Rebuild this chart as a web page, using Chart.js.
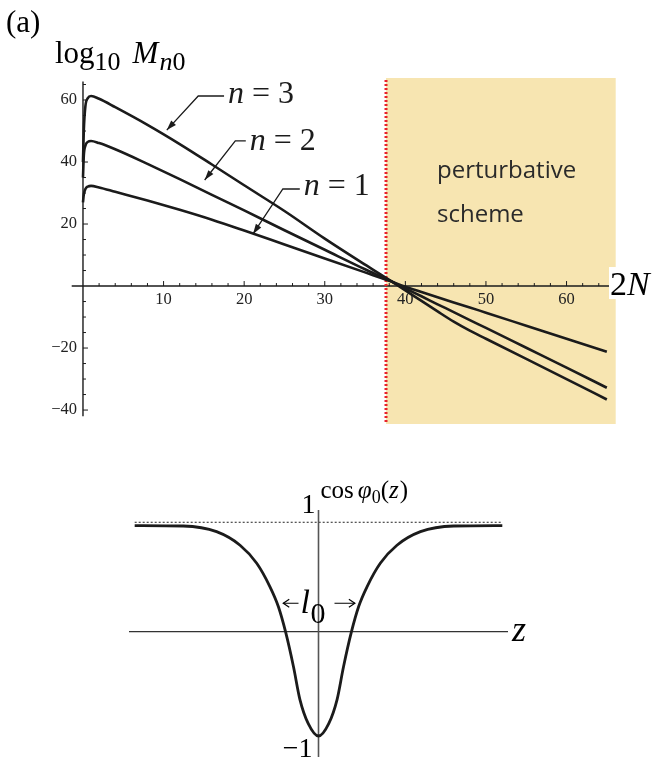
<!DOCTYPE html>
<html>
<head>
<meta charset="utf-8">
<script src="https://cdn.jsdelivr.net/npm/chart.js@4/dist/chart.umd.min.js"></script>
<style>
  html, body { margin: 0; padding: 0; background: #fff; }
  body { width: 657px; height: 760px; position: relative; overflow: hidden; }
  canvas { position: absolute; left: 0; }
  #mChart { top: 0; }
  #cosChart { top: 440px; }
</style>
</head>
<body>
<canvas id="mChart" width="657" height="440"></canvas>
<canvas id="cosChart" width="657" height="320"></canvas>
<script>
// ---- panel (a): log10 M_n0 against 2N ----
const twoN  = [0, 0.1, 0.3, 0.6, 1, 2, 4, 8, 12, 16, 20, 25, 30, 35, 38, 40, 42, 44, 46, 48, 50, 55, 60, 65];
const logM1 = [27, 29.5, 31.3, 32.1, 32.3, 31.8, 30.4, 27.6, 24.6, 21.4, 17.9, 13.4, 8.9, 4.4, 1.7, -0.2, -1.9, -3.6, -5.3, -6.9, -8.6, -12.8, -17.0, -21.2];
const logM2 = [35, 42, 45.3, 46.5, 46.8, 46.1, 44.1, 39.4, 34.5, 29.4, 24.4, 18.0, 11.7, 5.4, 1.8, -0.8, -3.3, -5.9, -8.4, -11.0, -13.5, -19.9, -26.3, -32.8];
const logM3 = [40, 50, 58, 60.6, 61.3, 60.4, 57.7, 52.0, 45.8, 39.2, 32.5, 24.2, 15.3, 6.9, 2.0, -1.4, -4.8, -8.2, -11.5, -14.4, -17.0, -23.5, -30.0, -36.6];
const xTicks = [10, 20, 30, 40, 50, 60];
const yTicks = [-40, -20, 20, 40, 60];
const schemeStart = 37.6;   // 2N where the perturbative scheme takes over

// ---- lower panel: cos phi0(z) ----
const zVals   = [-4.85, -3.57, -2.69, -2.07, -1.63, -1.28, -1.06, -0.87, -0.66, -0.49, -0.27, 0, 0.27, 0.49, 0.66, 0.87, 1.06, 1.28, 1.63, 2.07, 2.69, 3.57, 4.85];
const cosVals = [0.97, 0.966, 0.914, 0.79, 0.625, 0.41, 0.23, 0, -0.32, -0.62, -0.84, -0.953, -0.84, -0.62, -0.32, 0, 0.23, 0.41, 0.625, 0.79, 0.914, 0.966, 0.97];

const serif = '"Liberation Serif", "DejaVu Serif", serif';
const ink = '#1b1b1b';

function pts(xs, ys) { return xs.map((v, i) => ({x: v, y: ys[i]})); }

// write a row of text pieces with their own fonts and vertical shifts
function drawParts(ctx, x, y, parts) {
  let cx = x;
  ctx.textAlign = 'left';
  ctx.textBaseline = 'alphabetic';
  for (const p of parts) {
    ctx.font = p.font;
    ctx.fillText(p.t, cx, y + (p.dy || 0));
    cx += ctx.measureText(p.t).width + (p.gap || 0);
  }
}

function arrowTip(ctx, fx, fy, tx, ty, len, half, filled) {
  const a = Math.atan2(ty - fy, tx - fx);
  const bx = tx - len * Math.cos(a), by = ty - len * Math.sin(a);
  const ox = half * Math.sin(a), oy = -half * Math.cos(a);
  ctx.beginPath();
  if (filled) {
    ctx.moveTo(tx, ty);
    ctx.lineTo(bx + ox, by + oy);
    ctx.lineTo(bx - ox, by - oy);
    ctx.closePath();
    ctx.fill();
  } else {
    ctx.moveTo(bx + ox, by + oy);
    ctx.lineTo(tx, ty);
    ctx.lineTo(bx - ox, by - oy);
    ctx.stroke();
  }
}

const nLabels = [
  {n: '3', tip: [10.4, 50.3], elbow: [14.3, 61.3], text: [18.0, 59.0]},
  {n: '2', tip: [15.1, 34.2], elbow: [18.9, 46.8], text: [20.7, 43.9]},
  {n: '1', tip: [21.1, 16.8], elbow: [24.8, 31.3], text: [27.4, 29.4]}
];

const panelA = {
  id: 'panelA',
  beforeDatasetsDraw(chart) {
    const {ctx, chartArea: a, scales: {x, y}} = chart;
    const x0 = x.getPixelForValue(0), y0 = y.getPixelForValue(0);
    ctx.save();

    // shaded region
    const xs = x.getPixelForValue(schemeStart);
    ctx.fillStyle = 'rgb(247,229,177)';
    ctx.fillRect(xs, a.top, a.right - xs, a.bottom - a.top);
    ctx.fillStyle = '#2a2a2a';
    ctx.font = '24px "Open Sans", "Noto Sans", sans-serif';
    ctx.textAlign = 'left';
    ctx.textBaseline = 'alphabetic';
    ctx.fillText('perturbative', 437, 178);
    ctx.fillText('scheme', 437, 222);

    // axes through the origin
    ctx.strokeStyle = ink;
    ctx.lineWidth = 1.4;
    ctx.beginPath();
    ctx.moveTo(a.left, y0); ctx.lineTo(a.right, y0);
    ctx.moveTo(x0, y.getPixelForValue(66)); ctx.lineTo(x0, y.getPixelForValue(-42));
    ctx.stroke();

    ctx.lineWidth = 1;
    ctx.beginPath();
    for (let v = 2; v <= 64; v += 2) {
      const px = x.getPixelForValue(v), len = v % 10 === 0 ? 5 : 3;
      ctx.moveTo(px, y0); ctx.lineTo(px, y0 - len);
    }
    for (let v = -40; v <= 65; v += 5) {
      if (v === 0) continue;
      const py = y.getPixelForValue(v), len = v % 20 === 0 ? 5 : 3;
      ctx.moveTo(x0, py); ctx.lineTo(x0 + len, py);
    }
    ctx.stroke();

    ctx.fillStyle = '#222';
    ctx.font = '16.5px ' + serif;
    ctx.textAlign = 'center';
    ctx.textBaseline = 'middle';
    xTicks.forEach(v => ctx.fillText(String(v), x.getPixelForValue(v), y0 + 14));
    ctx.textAlign = 'right';
    yTicks.forEach(v => ctx.fillText(String(v).replace('-', '\u2212'), x0 - 6, y.getPixelForValue(v)));

    // onset of the perturbative scheme
    ctx.strokeStyle = '#e8232b';
    ctx.lineWidth = 3;
    ctx.setLineDash([2, 2]);
    ctx.beginPath();
    ctx.moveTo(xs, a.top + 2); ctx.lineTo(xs, a.bottom);
    ctx.stroke();
    ctx.restore();
  },
  afterDatasetsDraw(chart) {
    const {ctx, scales: {x, y}} = chart;
    ctx.save();
    ctx.fillStyle = ink;
    ctx.strokeStyle = ink;
    ctx.lineWidth = 1.3;
    nLabels.forEach(l => {
      const tx = x.getPixelForValue(l.tip[0]), ty = y.getPixelForValue(l.tip[1]);
      const ex = x.getPixelForValue(l.elbow[0]), ey = y.getPixelForValue(l.elbow[1]);
      const sx = x.getPixelForValue(l.text[0]), sy = y.getPixelForValue(l.text[1]);
      ctx.beginPath();
      ctx.moveTo(sx - 4, ey); ctx.lineTo(ex, ey); ctx.lineTo(tx, ty);
      ctx.stroke();
      arrowTip(ctx, ex, ey, tx, ty, 10, 3.2, true);
      drawParts(ctx, sx, sy, [
        {t: 'n', font: 'italic 32px ' + serif, gap: 8},
        {t: '=', font: '32px ' + serif, gap: 8},
        {t: l.n, font: '32px ' + serif}
      ]);
    });

    // horizontal axis title on a white patch
    const y0 = y.getPixelForValue(0);
    ctx.fillStyle = '#fff';
    ctx.fillRect(609, y0 - 19, 48, 32);
    ctx.fillStyle = '#000';
    drawParts(ctx, 610, y0 + 9, [
      {t: '2', font: '34px ' + serif},
      {t: 'N', font: 'italic 34px ' + serif}
    ]);

    // panel tag and vertical axis title
    drawParts(ctx, 6, 32, [{t: '(a)', font: '31px ' + serif}]);
    drawParts(ctx, 55, 63, [
      {t: 'log', font: '31px ' + serif},
      {t: '10', font: '26px ' + serif, dy: 7, gap: 12},
      {t: 'M', font: 'italic 31px ' + serif, gap: 1},
      {t: 'n', font: 'italic 26px ' + serif, dy: 7},
      {t: '0', font: '26px ' + serif, dy: 7}
    ]);
    ctx.restore();
  }
};

const lineStyle = {
  showLine: true, pointRadius: 0, borderColor: ink, borderWidth: 2.6,
  cubicInterpolationMode: 'monotone', fill: false
};

new Chart(document.getElementById('mChart'), {
  type: 'scatter',
  data: {
    datasets: [
      Object.assign({label: 'n = 1', data: pts(twoN, logM1)}, lineStyle),
      Object.assign({label: 'n = 2', data: pts(twoN, logM2)}, lineStyle),
      Object.assign({label: 'n = 3', data: pts(twoN, logM3)}, lineStyle)
    ]
  },
  options: {
    responsive: false,
    animation: false,
    layout: {padding: {left: 71.7, right: 41.3, top: 78, bottom: 16}},
    plugins: {legend: {display: false}, tooltip: {enabled: false}},
    scales: {
      x: {type: 'linear', min: -1.4, max: 66.1, display: false},
      y: {type: 'linear', min: -44.5, max: 67.1, display: false}
    }
  },
  plugins: [panelA]
});

// ---- lower panel ----
const panelB = {
  id: 'panelB',
  beforeDatasetsDraw(chart) {
    const {ctx, chartArea: a, scales: {x, y}} = chart;
    const x0 = x.getPixelForValue(0), y0 = y.getPixelForValue(0);
    ctx.save();
    // asymptote cos = 1
    const y1 = y.getPixelForValue(1);
    ctx.strokeStyle = '#222';
    ctx.lineWidth = 1;
    ctx.setLineDash([2, 2]);
    ctx.beginPath();
    ctx.moveTo(x.getPixelForValue(zVals[0]), y1);
    ctx.lineTo(x.getPixelForValue(zVals[zVals.length - 1]), y1);
    ctx.stroke();
    ctx.setLineDash([]);

    ctx.strokeStyle = '#333';
    ctx.lineWidth = 1.2;
    ctx.beginPath();
    ctx.moveTo(a.left, y0); ctx.lineTo(a.right, y0);
    ctx.stroke();
    ctx.strokeStyle = '#555';
    ctx.lineWidth = 1.6;
    ctx.beginPath();
    ctx.moveTo(x0, a.top); ctx.lineTo(x0, a.bottom);
    ctx.stroke();
    ctx.restore();
  },
  afterDatasetsDraw(chart) {
    const {ctx, scales: {x, y}} = chart;
    const x0 = x.getPixelForValue(0), y0 = y.getPixelForValue(0);
    ctx.save();
    ctx.fillStyle = '#000';
    ctx.strokeStyle = '#000';

    ctx.font = '28px ' + serif;
    ctx.textAlign = 'right';
    ctx.textBaseline = 'alphabetic';
    ctx.fillText('1', x0 - 3, y.getPixelForValue(1) - 9);
    ctx.fillText('\u22121', x0 - 6, y.getPixelForValue(-0.953) + 21);

    drawParts(ctx, x0 + 2, y.getPixelForValue(1) - 24, [
      {t: 'cos', font: '25px ' + serif, gap: 4},
      {t: '\u03c6', font: 'italic 25px ' + serif},
      {t: '0', font: '18px ' + serif, dy: 5},
      {t: '(', font: '25px ' + serif},
      {t: 'z', font: 'italic 25px ' + serif, gap: 1},
      {t: ')', font: '25px ' + serif}
    ]);

    // width l0 of the kink
    const ya = y.getPixelForValue(0.26);
    const lft = x.getPixelForValue(-0.93), rgt = x.getPixelForValue(0.96);
    ctx.lineWidth = 1.2;
    ctx.beginPath();
    ctx.moveTo(lft, ya); ctx.lineTo(x0 - 20, ya);
    ctx.moveTo(x0 + 16, ya); ctx.lineTo(rgt, ya);
    ctx.stroke();
    arrowTip(ctx, x0 - 20, ya, lft, ya, 6, 4, false);
    arrowTip(ctx, x0 + 16, ya, rgt, ya, 6, 4, false);
    drawParts(ctx, x0 - 18, ya + 10, [{t: 'l', font: 'italic 34px ' + serif}]);
    drawParts(ctx, x0 - 8, ya + 20, [{t: '0', font: '30px ' + serif}]);

    drawParts(ctx, x.right + 4, y0 + 9, [{t: 'z', font: 'italic 36px ' + serif}]);
    ctx.restore();
  }
};

new Chart(document.getElementById('cosChart'), {
  type: 'scatter',
  data: {
    datasets: [{
      label: 'cos phi0(z)',
      data: pts(zVals, cosVals),
      showLine: true, pointRadius: 0, borderColor: ink, borderWidth: 2.8,
      cubicInterpolationMode: 'monotone', fill: false
    }]
  },
  options: {
    responsive: false,
    animation: false,
    layout: {padding: {left: 129, right: 149, top: 70, bottom: 3}},
    plugins: {legend: {display: false}, tooltip: {enabled: false}},
    scales: {
      x: {type: 'linear', min: -5, max: 5, display: false},
      y: {type: 'linear', min: -1.145, max: 1.112, display: false}
    }
  },
  plugins: [panelB]
});
</script>
</body>
</html>
